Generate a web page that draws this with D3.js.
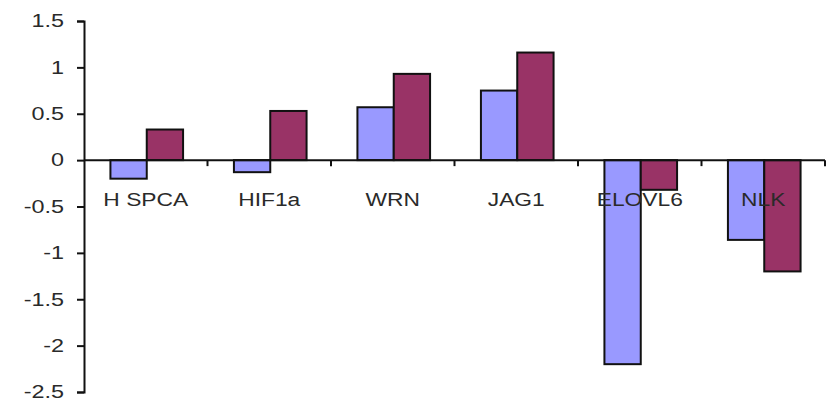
<!DOCTYPE html>
<html>
<head>
<meta charset="utf-8">
<script src="https://cdn.jsdelivr.net/npm/d3@7"></script>
<style>
  body { margin: 0; background: #fff; }
  text { font-family: "Liberation Sans", Arial, sans-serif; fill: #2a2a2a; }
</style>
</head>
<body>
<div id="chart"></div>
<script>
var genes = ["HSPCA", "HIF1a", "WRN", "JAG1", "ELOVL6", "NLK"];
var seriesNames = ["s1", "s2"];
var s1Values = [-0.2, -0.13, 0.57, 0.75, -2.2, -0.86];
var s2Values = [0.33, 0.53, 0.93, 1.16, -0.32, -1.2];
var yTicks = [1.5, 1, 0.5, 0, -0.5, -1, -1.5, -2, -2.5];
var colors = ["#9999ff", "#993366"];

var chartW = 826, chartH = 406;
var plotLeft = 84, plotRight = 825, plotTop = 21, plotBottom = 392;

var svg = d3.select("#chart").append("svg")
    .attr("width", chartW)
    .attr("height", chartH);

var y = d3.scaleLinear().domain([-2.5, 1.5]).range([plotBottom, plotTop]);
var x0 = d3.scaleBand().domain(genes).range([plotLeft, plotRight]).padding(0);
var x1 = d3.scaleBand().domain(seriesNames).range([0, x0.bandwidth()])
    .paddingInner(0).paddingOuter(0.7);

// bars
var rows = genes.map(function(g, i){
    return {gene: g, vals: [s1Values[i], s2Values[i]]};
});
var groups = svg.selectAll("g.grp").data(rows).enter().append("g")
    .attr("class", "grp")
    .attr("transform", function(d){ return "translate(" + (x0(d.gene) + 1) + ",0)"; });
groups.selectAll("rect").data(function(d){
        return d.vals.map(function(v, j){ return {s: seriesNames[j], v: v, j: j}; });
    }).enter().append("rect")
    .attr("x", function(d){ return x1(d.s); })
    .attr("width", x1.bandwidth())
    .attr("y", function(d){ return y(Math.max(0, d.v)); })
    .attr("height", function(d){ return Math.abs(y(d.v) - y(0)); })
    .style("fill", function(d){ return colors[d.j]; })
    .style("stroke", "#111")
    .style("stroke-width", 2);

// y axis
var yAxis = d3.axisLeft(y).tickValues(yTicks).tickSize(7).tickPadding(13)
    .tickFormat(function(d){ return d; });
var yg = svg.append("g").attr("transform", "translate(" + plotLeft + ",0)").call(yAxis);
yg.select(".domain").attr("stroke", "#111").attr("stroke-width", 2);
yg.selectAll(".tick line").attr("stroke", "#111").attr("stroke-width", 2);
yg.selectAll(".tick text")
    .attr("fill", "#2a2a2a")
    .style("font-size", "18px")
    .each(function(){
        var t = d3.select(this);
        var xx = +t.attr("x");
        t.attr("transform", "translate(" + xx + ",0) scale(1.3,1) translate(" + (-xx) + ",0)");
    });

// x axis at zero
var zy = y(0);
svg.append("line")
    .attr("x1", plotLeft).attr("x2", plotRight)
    .attr("y1", zy).attr("y2", zy)
    .attr("stroke", "#111").attr("stroke-width", 2);
svg.selectAll("line.xtick").data(genes).enter().append("line")
    .attr("class", "xtick")
    .attr("x1", function(d){ return x0(d) + x0.bandwidth(); })
    .attr("x2", function(d){ return x0(d) + x0.bandwidth(); })
    .attr("y1", zy).attr("y2", zy + 6)
    .attr("stroke", "#111").attr("stroke-width", 2);

// category labels
svg.selectAll("text.cat").data(genes).enter().append("text")
    .attr("class", "cat")
    .attr("text-anchor", "middle")
    .attr("transform", function(d){
        return "translate(" + (x0(d) + x0.bandwidth() / 2) + "," + (zy + 46) + ") scale(1.2,1)";
    })
    .style("font-size", "19px")
    .text(function(d){ return d === "HSPCA" ? "H SPCA" : d; });
</script>
</body>
</html>
